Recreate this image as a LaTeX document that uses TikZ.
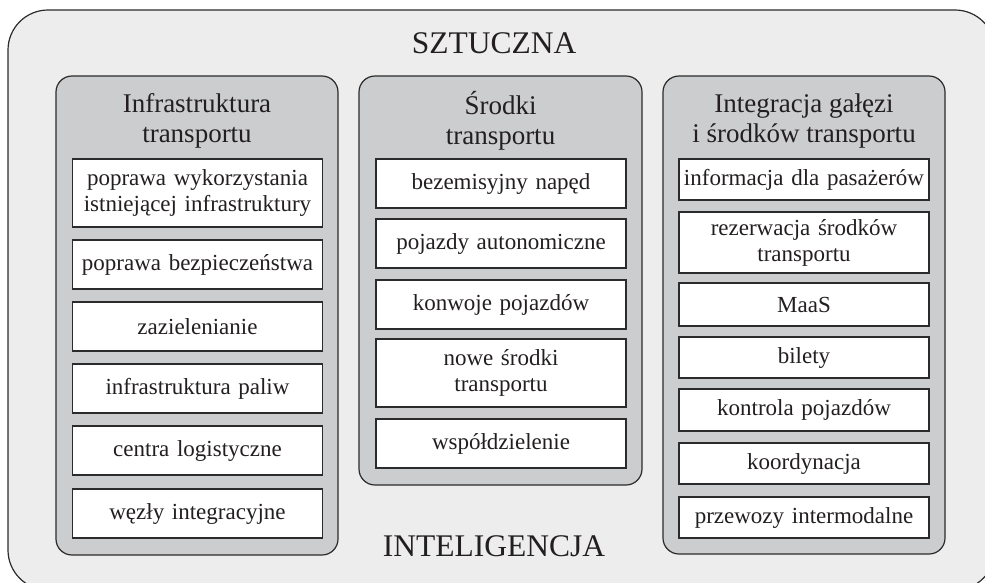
\documentclass[tikz,border=0pt]{standalone}
\usepackage{fontspec}
\setmainfont{Liberation Serif}

\definecolor{outergray}{HTML}{EDEDED}
\definecolor{colgray}{HTML}{CCCDCF}
\definecolor{linegray}{HTML}{2B2B2B}
\definecolor{inkgray}{HTML}{231F20}

\tikzset{
  outerbox/.style={draw=linegray, line width=1.2pt, fill=outergray, rounded corners=40pt},
  column/.style={draw=linegray, line width=1.2pt, fill=colgray, rounded corners=16pt, inner sep=0pt},
  coltitle/.style={align=center, text=inkgray, font=\fontsize{27}{30}\selectfont},
  item/.style={draw=linegray, line width=1.1pt, fill=white, align=center, text=inkgray,
    text width=247pt, inner xsep=1.5pt, inner ysep=0pt, font=\fontsize{23}{26}\selectfont},
  bigword/.style={text=inkgray, font=\fontsize{31.5}{36}\selectfont}
}

\begin{document}
\begin{tikzpicture}[x=1pt, y=-1pt]
        \useasboundingbox (0,0) rectangle (985,582);
        \clip (0,0) rectangle (985,582);
        \draw[outerbox] (8,10) rectangle (995,590);

        \node[bigword, anchor=base] (sztuczna) at (494,53) {SZTUCZNA};
        \node[bigword, anchor=base] (inteligencja) at (494,556) {INTELIGENCJA};

        % columns
        \node[column, minimum width=282pt, minimum height=479pt] (col1) at (197,315.5) {};
        \node[column, minimum width=283pt, minimum height=409pt] (col2) at (500.5,280.5) {};
        \node[column, minimum width=282pt, minimum height=478pt] (col3) at (804,315) {};

        \node[coltitle] (title1) at (197,121) {Infrastruktura\\transportu};
        \node[coltitle] (title2) at (500.5,121) {Środki\\transportu};
        \node[coltitle] (title3) at (804,121) {Integracja gałęzi\\i środków transportu};

        % infrastruktura
        \node[item, minimum height=68pt] (infra1) at (197.5,193) {poprawa wykorzystania\\istniejącej infrastruktury};
        \node[item, minimum height=49pt] (infra2) at (197.5,264.5) {poprawa bezpieczeństwa};
        \node[item, minimum height=49pt] (infra3) at (197.5,326.5) {zazielenianie};
        \node[item, minimum height=49pt] (infra4) at (197.5,388.5) {infrastruktura paliw};
        \node[item, minimum height=49pt] (infra5) at (197.5,450.5) {centra logistyczne};
        \node[item, minimum height=49pt] (infra6) at (197.5,513.5) {węzły integracyjne};

        % srodki
        \node[item, minimum height=49pt] (srodki1) at (501,183.5) {bezemisyjny napęd};
        \node[item, minimum height=49pt] (srodki2) at (501,243.5) {pojazdy autonomiczne};
        \node[item, minimum height=49pt] (srodki3) at (501,304.5) {konwoje pojazdów};
        \node[item, minimum height=68pt] (srodki4) at (501,373) {nowe środki\\transportu};
        \node[item, minimum height=49pt] (srodki5) at (501,443.5) {współdzielenie};

        % integracja
        \node[item, minimum height=41pt] (integr1) at (804,179.5) {informacja dla pasażerów};
        \node[item, minimum height=61pt] (integr2) at (804,242.5) {rezerwacja środków\\transportu};
        \node[item, minimum height=43pt] (integr3) at (804,304.5) {MaaS};
        \node[item, minimum height=41pt] (integr4) at (804,357.5) {bilety};
        \node[item, minimum height=42pt] (integr5) at (804,410) {kontrola pojazdów};
        \node[item, minimum height=41pt] (integr6) at (804,463.5) {koordynacja};
        \node[item, minimum height=41pt] (integr7) at (804,517.5) {przewozy intermodalne};
\end{tikzpicture}
\end{document}
